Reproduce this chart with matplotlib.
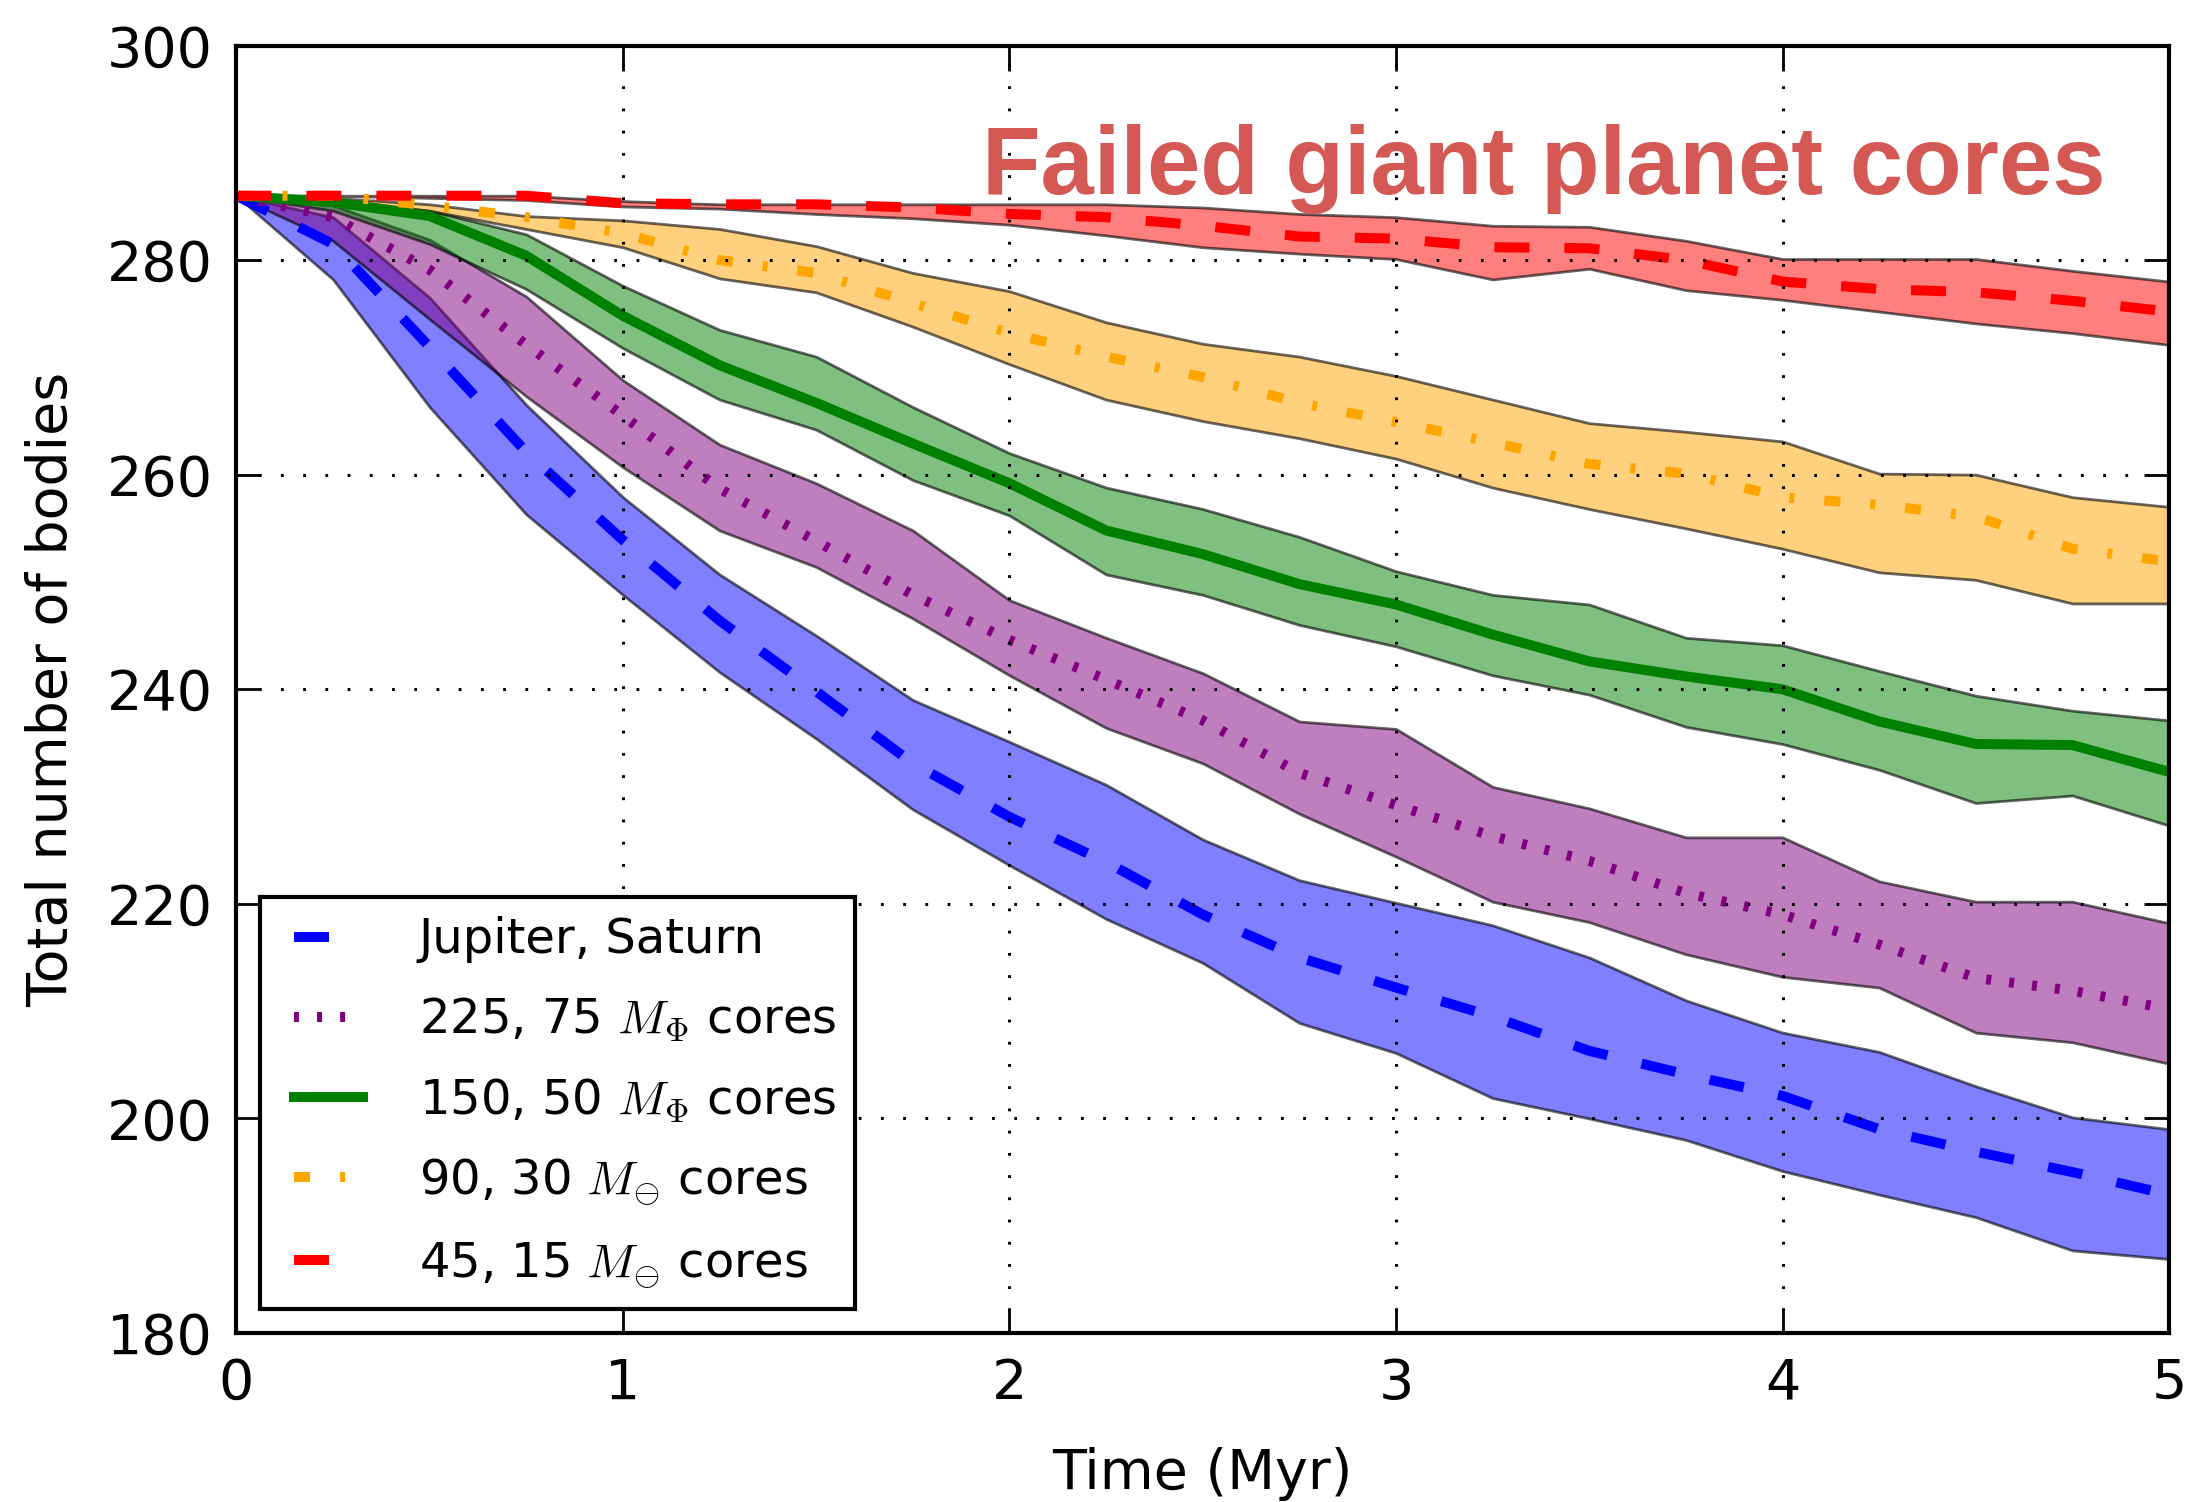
import matplotlib
matplotlib.use('Agg')
import matplotlib.pyplot as plt
from matplotlib.colors import to_rgba
from matplotlib.legend_handler import HandlerLine2D

plt.rcParams['font.family'] = 'DejaVu Sans'
plt.rcParams['mathtext.fontset'] = 'cm'
plt.rcParams['lines.scale_dashes'] = False

# time in Myr
time = [0.0, 0.25, 0.5, 0.75, 1.0, 1.25, 1.5, 1.75, 2.0, 2.25, 2.5,
        2.75, 3.0, 3.25, 3.5, 3.75, 4.0, 4.25, 4.5, 4.75, 5.0]

# Jupiter + Saturn
js_mean = [286, 281.5, 271.9, 262.1, 253.9, 246.4, 239.8, 233.1, 228.1, 223.9, 219.0,
           215.0, 212.2, 209.5, 206.3, 204.1, 202.1, 199.0, 196.9, 195.0, 192.9]
js_hi = [286, 284.0, 276.5, 266.5, 257.9, 250.7, 245.0, 239.0, 235.1, 231.1, 226.0,
         222.2, 220.1, 218.0, 215.0, 211.0, 208.0, 206.2, 203.0, 200.1, 199.0]
js_lo = [286, 278.2, 266.3, 256.3, 248.8, 241.6, 235.4, 228.8, 223.6, 218.6, 214.5,
         208.9, 206.1, 201.9, 200.0, 198.0, 195.1, 192.9, 190.8, 187.7, 186.9]

# 225, 75 Earth-mass cores
c225_mean = [286, 284.0, 279.1, 272.1, 265.5, 258.7, 253.8, 248.8, 244.6, 240.9, 237.1,
             232.2, 229.2, 226.3, 224.0, 221.0, 219.0, 216.2, 213.1, 211.9, 210.2]
c225_hi = [286, 285.1, 281.9, 276.6, 268.8, 262.8, 259.2, 254.8, 248.3, 244.8, 241.5,
           237.0, 236.3, 230.9, 228.9, 226.2, 226.2, 222.1, 220.2, 220.2, 218.2]
c225_lo = [286, 281.8, 274.5, 267.3, 260.7, 254.8, 251.4, 246.6, 241.3, 236.4, 233.1,
           228.4, 224.4, 220.2, 218.3, 215.3, 213.2, 212.2, 208.0, 207.1, 205.1]

# 150, 50 Earth-mass cores
c150_mean = [286, 285.4, 284.1, 280.4, 274.8, 270.2, 266.7, 262.9, 259.2, 254.8, 252.6,
             249.8, 247.9, 245.1, 242.6, 241.2, 240.0, 237.0, 234.9, 234.8, 232.3]
c150_hi = [286, 285.5, 284.6, 282.4, 277.6, 273.5, 271.0, 266.3, 262.0, 258.8, 256.8,
           254.2, 251.0, 248.8, 247.9, 244.8, 244.1, 241.7, 239.4, 238.0, 237.1]
c150_lo = [286, 284.6, 281.5, 277.3, 271.8, 267.0, 264.2, 259.5, 256.2, 250.7, 248.8,
           246.0, 244.0, 241.3, 239.5, 236.5, 234.9, 232.5, 229.4, 230.1, 227.3]

# 90, 30 Earth-mass cores
c90_mean = [286, 286.0, 285.1, 284.0, 282.5, 280.0, 278.8, 276.0, 273.2, 271.0, 269.1,
            266.7, 264.9, 263.0, 261.0, 260.1, 257.9, 257.2, 256.1, 253.1, 251.9]
c90_hi = [286, 285.8, 285.2, 284.1, 283.7, 282.9, 281.3, 278.8, 277.1, 274.2, 272.2,
          271.0, 269.2, 267.0, 264.8, 264.0, 263.1, 260.1, 260.0, 257.9, 257.0]
c90_lo = [286, 285.7, 284.6, 282.9, 281.2, 278.3, 277.0, 273.8, 270.3, 267.0, 265.0,
          263.4, 261.5, 258.8, 256.8, 255.0, 253.1, 250.9, 250.2, 248.0, 248.0]

# 45, 15 Earth-mass cores
c45_mean = [286, 286, 286, 286, 285.3, 285.2, 285.2, 284.9, 284.3, 284.0, 283.2,
            282.2, 282.0, 281.2, 281.1, 280.0, 278.0, 277.3, 277.0, 276.2, 275.2]
c45_hi = [286, 286, 286, 286, 285.5, 285.2, 285.2, 285.2, 285.2, 285.2, 284.9,
          284.3, 284.0, 283.2, 283.1, 281.8, 280.1, 280.1, 280.1, 279.0, 278.0]
c45_lo = [286, 286, 285.8, 285.6, 285.0, 284.8, 284.3, 283.9, 283.3, 282.3, 281.2,
          280.6, 280.1, 278.2, 279.2, 277.2, 276.3, 275.2, 274.1, 273.2, 272.1]

labels = ['Jupiter, Saturn',
          r'225, 75 $M_{\Phi}$ cores',
          r'150, 50 $M_{\Phi}$ cores',
          r'90, 30 $M_{\ominus}$ cores',
          r'45, 15 $M_{\ominus}$ cores']
colors = ['blue', 'purple', 'green', 'orange', 'red']
styles = [(0, (12.6, 12.6)),
          (0, (1.8, 6.5)),
          '-',
          (0, (5.8, 10.8, 1.8, 10.8)),
          (0, (12.6, 12.6))]
means = [js_mean, c225_mean, c150_mean, c90_mean, c45_mean]
lows = [js_lo, c225_lo, c150_lo, c90_lo, c45_lo]
highs = [js_hi, c225_hi, c150_hi, c90_hi, c45_hi]

fig = plt.figure(figsize=(2191 / 200, 1502 / 200), dpi=200)
ax = fig.add_axes([0.1079, 0.1125, 0.8821, 0.8572])

for lo, hi, c in zip(lows, highs, colors):
    ax.fill_between(time, lo, hi, facecolor=to_rgba(c, 0.5),
                    edgecolor=(0, 0, 0, 0.6), linewidth=1.0, zorder=1)

lines = []
for m, c, ls, lab in zip(means, colors, styles, labels):
    ln, = ax.plot(time, m, color=c, lw=3.6, linestyle=ls, label=lab, zorder=2)
    lines.append(ln)

ax.set_xlim(0, 5)
ax.set_ylim(180, 300)
ax.set_xticks([0, 1, 2, 3, 4, 5])
ax.set_yticks([180, 200, 220, 240, 260, 280, 300])
ax.grid(True, color='k', linestyle=(0, (1.0, 7.0)), linewidth=1.1)
ax.set_axisbelow(False)
ax.tick_params(direction='in', length=9, width=1.0, top=True, right=True,
               labelsize=20, pad=8.5)
for sp in ax.spines.values():
    sp.set_linewidth(1.5)

ax.set_xlabel('Time (Myr)', fontsize=20, labelpad=13)
ax.set_ylabel('Total number of bodies', fontsize=20, labelpad=10)

leg = ax.legend(handles=lines, loc='lower left', fontsize=17.3,
                handlelength=1.73, handletextpad=1.16, borderpad=0.4,
                labelspacing=0.68, borderaxespad=0.5, fancybox=False,
                framealpha=1,
                handler_map={ln: HandlerLine2D(xpad=0.3) for ln in lines})
leg.get_frame().set_edgecolor('black')
leg.get_frame().set_linewidth(1.5)

ax.text(1.93, 286.2, 'Failed giant planet cores', fontsize=34.5,
        fontweight='bold', family='Liberation Sans', color='#d45955',
        ha='left', va='baseline', zorder=5)

fig.savefig('out.png', dpi=200)
